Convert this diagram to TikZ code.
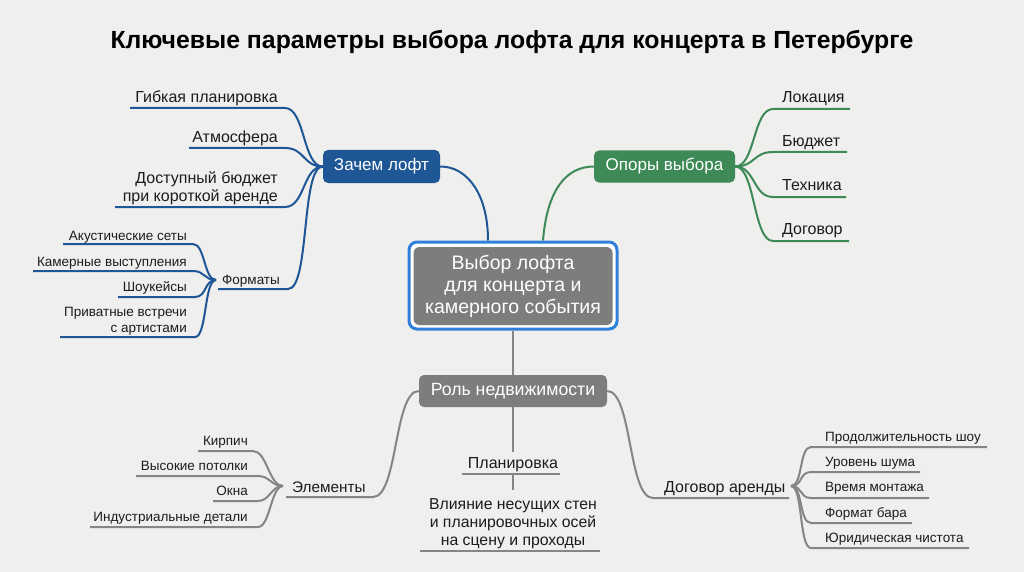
\documentclass[tikz,border=0pt]{standalone}
\usepackage{fontspec}
\setmainfont{Liberation Sans}
\definecolor{bg}{HTML}{EFEFEE}
\definecolor{cblue}{HTML}{1F5796}
\definecolor{cgreen}{HTML}{3E8A57}
\definecolor{cgray}{HTML}{7D7D7D}
\definecolor{cline}{HTML}{858585}
\definecolor{cborder}{HTML}{2F80DA}
\definecolor{ctext}{HTML}{1C1C1C}
\begin{document}
\begin{tikzpicture}[x=1pt,y=-1pt,
  lbl/.style={inner sep=0pt,text=ctext,font=\fontsize{16}{18}\selectfont},
  slbl/.style={inner sep=0pt,text=ctext,font=\fontsize{13.5}{16}\selectfont},
  box/.style={rounded corners=5pt,text=white,inner sep=0pt,font=\fontsize{17}{19}\selectfont},
  bl/.style={draw=cblue,line width=2pt},
  gr/.style={draw=cgreen,line width=2pt},
  gy/.style={draw=cline,line width=2pt}]
\fill[bg] (0,0) rectangle (1024,572);
\useasboundingbox (0,0) rectangle (1024,572);

% title
\node[inner sep=0pt,text=black,font=\fontsize{24.8}{28}\selectfont\bfseries] (title) at (512,42) {Ключевые параметры выбора лофта для концерта в Петербурге};

% centre
\node[draw=cborder,line width=3pt,fill=white,rounded corners=8pt,minimum width=208pt,minimum height=87pt] (cframe) at (513,285.5) {};
\node[fill=cgray,rounded corners=6pt,minimum width=199pt,minimum height=78pt,text=white,align=center,inner sep=0pt,font=\fontsize{19.5}{22}\selectfont] (cbox) at (513,286) {Выбор лофта\\для концерта и\\камерного события};

% main boxes
\node[box,fill=cblue,minimum width=117pt,minimum height=33pt] (zachem) at (381.5,166.5) {Зачем лофт};
\node[box,fill=cgreen,minimum width=141pt,minimum height=32pt] (opory) at (664.5,166.5) {Опоры выбора};
\node[box,fill=cgray,minimum width=188pt,minimum height=32pt,font=\fontsize{17.7}{19}\selectfont] (rol) at (513,391) {Роль недвижимости};

\draw[bl] ([xshift=-25pt]cframe.north) .. controls +(0,-45) and +(28,0) .. (zachem.east);
\draw[gr] ([xshift=30pt]cframe.north) .. controls +(4,-50) and +(-28,0) .. (opory.west);
\draw[gy] (cframe.south) -- (rol.north);

% ---- Зачем лофт leaves
\node[lbl,anchor=base east] (gib) at (278,103) {Гибкая планировка};
\coordinate (gibL) at (130,108); \coordinate (gibR) at (285,108);
\draw[bl] (gibL) -- (gibR) .. controls +(20,0) and +(-20,0) .. (zachem.west);
\node[lbl,anchor=base east] (atm) at (278,143) {Атмосфера};
\coordinate (atmL) at (189,148); \coordinate (atmR) at (285,148);
\draw[bl] (atmL) -- (atmR) .. controls +(20,0) and +(-20,0) .. (zachem.west);
\node[lbl,anchor=south east,align=right] (dost) at (278,205) {Доступный бюджет\\при короткой аренде};
\coordinate (dostL) at (115,207); \coordinate (dostR) at (285,207);
\draw[bl] (dostL) -- (dostR) .. controls +(20,0) and +(-20,0) .. (zachem.west);
\node[slbl,anchor=base west] (form) at (222,284) {Форматы};
\coordinate (formL) at (218,289); \coordinate (formR) at (288,289);
\draw[bl] (formL) -- (formR) .. controls +(22,0) and +(-22,0) .. (zachem.west);
\coordinate (fhub) at (216,280);

\node[slbl,anchor=base east] (aku) at (187,240) {Акустические сеты};
\coordinate (akuL) at (63,244); \coordinate (akuR) at (193,244);
\draw[bl] (akuL) -- (akuR) .. controls +(12,0) and +(-12,0) .. (fhub);
\node[slbl,anchor=base east] (kam) at (187,266) {Камерные выступления};
\coordinate (kamL) at (33,271); \coordinate (kamR) at (193,271);
\draw[bl] (kamL) -- (kamR) .. controls +(12,0) and +(-12,0) .. (fhub);
\node[slbl,anchor=base east] (shou) at (187,291) {Шоукейсы};
\coordinate (shouL) at (118,297); \coordinate (shouR) at (195,297);
\draw[bl] (shouL) -- (shouR) .. controls +(12,0) and +(-12,0) .. (fhub);
\node[slbl,anchor=south east,align=right] (priv) at (187,335) {Приватные встречи\\с артистами};
\coordinate (privL) at (60,337); \coordinate (privR) at (195,337);
\draw[bl] (privL) -- (privR) .. controls +(12,0) and +(-12,0) .. (fhub);

% ---- Опоры leaves
\node[lbl,anchor=base west] (lok) at (782,103) {Локация};
\coordinate (lokL) at (773,109); \coordinate (lokR) at (850,109);
\draw[gr] (lokR) -- (lokL) .. controls +(-20,0) and +(20,0) .. (opory.east);
\node[lbl,anchor=base west] (bud) at (782,147) {Бюджет};
\coordinate (budL) at (773,152); \coordinate (budR) at (847,152);
\draw[gr] (budR) -- (budL) .. controls +(-20,0) and +(20,0) .. (opory.east);
\node[lbl,anchor=base west] (tech) at (782,190) {Техника};
\coordinate (techL) at (773,197); \coordinate (techR) at (846,197);
\draw[gr] (techR) -- (techL) .. controls +(-20,0) and +(20,0) .. (opory.east);
\node[lbl,anchor=base west] (dog) at (782,234) {Договор};
\coordinate (dogL) at (773,241); \coordinate (dogR) at (849,241);
\draw[gr] (dogR) -- (dogL) .. controls +(-20,0) and +(20,0) .. (opory.east);

% ---- Элементы
\node[lbl,anchor=base west,font=\fontsize{15.3}{18}\selectfont] (elem) at (292,492) {Элементы};
\coordinate (elemL) at (286,497); \coordinate (elemR) at (373,497);
\draw[gy] (elemL) -- (elemR) .. controls +(25,0) and +(-25,0) .. (rol.west);
\coordinate (ehub) at (283,486);
\node[slbl,anchor=base east] (kir) at (248,445) {Кирпич};
\coordinate (kirL) at (198,451); \coordinate (kirR) at (253,451);
\draw[gy] (kirL) -- (kirR) .. controls +(14,0) and +(-14,0) .. (ehub);
\node[slbl,anchor=base east] (vys) at (248,470) {Высокие потолки};
\coordinate (vysL) at (136,476); \coordinate (vysR) at (258,476);
\draw[gy] (vysL) -- (vysR) .. controls +(12,0) and +(-12,0) .. (ehub);
\node[slbl,anchor=base east] (okn) at (248,495) {Окна};
\coordinate (oknL) at (213,501); \coordinate (oknR) at (258,501);
\draw[gy] (oknL) -- (oknR) .. controls +(12,0) and +(-12,0) .. (ehub);
\node[slbl,anchor=base east] (ind) at (248,521) {Индустриальные детали};
\coordinate (indL) at (90,527); \coordinate (indR) at (258,527);
\draw[gy] (indL) -- (indR) .. controls +(12,0) and +(-12,0) .. (ehub);

% ---- Планировка
\node[lbl,anchor=base] (plan) at (513,468) {Планировка};
\coordinate (planT) at (513,452);
\draw[gy] (rol.south) -- (planT);
\coordinate (planL) at (462,474); \coordinate (planR) at (560,474);
\draw[gy] (planL) -- (planR);
\coordinate (planM) at (513,474); \coordinate (planB) at (513,490);
\draw[gy] (planM) -- (planB);
\node[lbl,anchor=south,align=center,font=\fontsize{15.8}{18}\selectfont] (vli) at (513,549) {Влияние несущих стен\\и планировочных осей\\на сцену и проходы};
\coordinate (vliL) at (420,551); \coordinate (vliR) at (600,551);
\draw[gy] (vliL) -- (vliR);

% ---- Договор аренды
\node[lbl,anchor=base west] (dar) at (664,492) {Договор аренды};
\coordinate (darL) at (653,498); \coordinate (darR) at (789,498);
\draw[gy] (darR) -- (darL) .. controls +(-25,0) and +(25,0) .. (rol.east);
\coordinate (dhub) at (791,486);
\node[slbl,anchor=base west] (prod) at (825,441) {Продолжительность шоу};
\coordinate (prodL) at (811,447); \coordinate (prodR) at (987,447);
\draw[gy] (prodR) -- (prodL) .. controls +(-12,0) and +(12,0) .. (dhub);
\node[slbl,anchor=base west] (urov) at (825,466) {Уровень шума};
\coordinate (urovL) at (811,472); \coordinate (urovR) at (920,472);
\draw[gy] (urovR) -- (urovL) .. controls +(-12,0) and +(12,0) .. (dhub);
\node[slbl,anchor=base west] (vrem) at (825,491) {Время монтажа};
\coordinate (vremL) at (811,498); \coordinate (vremR) at (929,498);
\draw[gy] (vremR) -- (vremL) .. controls +(-12,0) and +(12,0) .. (dhub);
\node[slbl,anchor=base west] (fbar) at (825,517) {Формат бара};
\coordinate (fbarL) at (811,523); \coordinate (fbarR) at (912,523);
\draw[gy] (fbarR) -- (fbarL) .. controls +(-12,0) and +(12,0) .. (dhub);
\node[slbl,anchor=base west] (yur) at (825,542) {Юридическая чистота};
\coordinate (yurL) at (811,548); \coordinate (yurR) at (969,548);
\draw[gy] (yurR) -- (yurL) .. controls +(-12,0) and +(12,0) .. (dhub);
\end{tikzpicture}
\end{document}
